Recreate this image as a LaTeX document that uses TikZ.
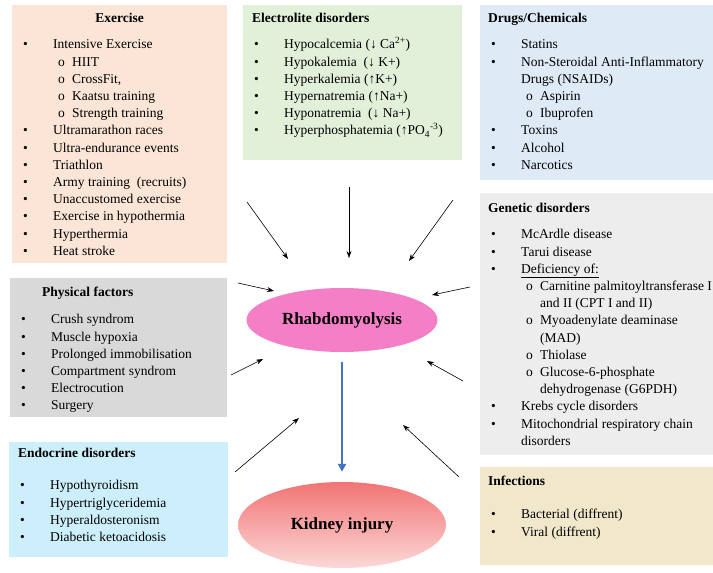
\documentclass[tikz,border=0pt]{standalone}
\usepackage{fontspec}
\setmainfont{Liberation Serif}
\usetikzlibrary{arrows.meta,shapes.geometric}

\definecolor{exfill}{HTML}{FBE5D6}
\definecolor{elfill}{HTML}{E2F0D9}
\definecolor{drfill}{HTML}{DEEBF7}
\definecolor{phfill}{HTML}{D9D9D9}
\definecolor{enfill}{HTML}{CDEFFB}
\definecolor{gefill}{HTML}{EDEDED}
\definecolor{infill}{HTML}{F1E7CB}
\definecolor{rhfill}{HTML}{F47FC6}
\definecolor{kdtop}{HTML}{F27474}
\definecolor{kdbot}{HTML}{FCD8D8}
\definecolor{flowblue}{HTML}{4472C4}

\newcommand{\itm}[1]{\hspace*{11pt}\makebox[30pt][l]{\textbullet}#1}
\newcommand{\subitm}[1]{\hspace*{46pt}\makebox[14pt][l]{o}#1}
\newcommand{\itmcont}[1]{\hspace*{41pt}#1}
\newcommand{\subcont}[1]{\hspace*{60pt}#1}
\newcommand{\boxtext}[3]{\begin{minipage}[t][#2][t]{#1}#3\end{minipage}}

\begin{document}
\begin{tikzpicture}[
  x=1pt, y=-1pt,
  box/.style={anchor=north west, inner sep=0pt},
  cause/.style={-{Stealth[length=7pt,width=5pt]}, line width=0.6pt},
  font=\fontsize{13.5}{17.2}\selectfont
]
\useasboundingbox (0,0) rectangle (713,573);

% Cause boxes
\node[box, fill=exfill] (exercise) at (12,5) {\boxtext{215pt}{258pt}{%
\rule{0pt}{17.5pt}\makebox[215pt]{\textbf{Exercise}}\\[9pt]
\itm{Intensive Exercise}\\
\subitm{HIIT}\\
\subitm{CrossFit,}\\
\subitm{Kaatsu training}\\
\subitm{Strength training}\\
\itm{Ultramarathon races}\\
\itm{Ultra-endurance events}\\
\itm{Triathlon}\\
\itm{Army training\ \ (recruits)}\\
\itm{Unaccustomed exercise}\\
\itm{Exercise in hypothermia}\\
\itm{Hyperthermia}\\
\itm{Heat stroke}}};

\node[box, fill=elfill] (electro) at (243,5) {\boxtext{219pt}{155pt}{%
\rule{0pt}{17.5pt}\hspace*{9pt}\textbf{Electrolite disorders}\\[9pt]
\itm{Hypocalcemia (↓ Ca\textsuperscript{2+})}\\
\itm{Hypokalemia\ \ (↓ K+)}\\
\itm{Hyperkalemia (↑K+)}\\
\itm{Hypernatremia (↑Na+)}\\
\itm{Hyponatremia\ \ (↓ Na+)}\\
\itm{Hyperphosphatemia (↑PO\textsubscript{4}\textsuperscript{-3})}}};

\node[box, fill=drfill] (drugs) at (480,5) {\boxtext{233pt}{175pt}{%
\rule{0pt}{17.5pt}\hspace*{8pt}\textbf{Drugs/Chemicals}\\[9pt]
\itm{Statins}\\
\itm{Non-Steroidal\ Anti-Inflammatory}\\
\itmcont{Drugs (NSAIDs)}\\
\subitm{Aspirin}\\
\subitm{Ibuprofen}\\
\itm{Toxins}\\
\itm{Alcohol}\\
\itm{Narcotics}}};

\node[box, fill=phfill] (physical) at (10,278) {\boxtext{217pt}{139pt}{%
\rule{0pt}{18.5pt}\hspace*{32pt}\textbf{Physical factors}\\[10pt]
\itm{Crush syndrom}\\
\itm{Muscle hypoxia}\\
\itm{Prolonged immobilisation}\\
\itm{Compartment syndrom}\\
\itm{Electrocution}\\
\itm{Surgery}}};

\node[box, fill=enfill] (endocrine) at (9,442) {\boxtext{219pt}{115pt}{%
\rule{0pt}{15.5pt}\hspace*{9pt}\textbf{Endocrine disorders}\\[15pt]
\itm{Hypothyroidism}\\
\itm{Hypertriglyceridemia}\\
\itm{Hyperaldosteronism}\\
\itm{Diabetic ketoacidosis}}};

\node[box, fill=gefill] (genetic) at (480,193) {\boxtext{233pt}{262pt}{%
\rule{0pt}{19.5pt}\hspace*{8pt}\textbf{Genetic disorders}\\[9pt]
\itm{McArdle disease}\\
\itm{Tarui disease}\\
\itm{\underline{Deficiency of:}}\\
\subitm{Carnitine palmitoyltransferase I}\\
\subcont{and II (CPT I and II)}\\
\subitm{Myoadenylate deaminase}\\
\subcont{(MAD)}\\
\subitm{Thiolase}\\
\subitm{Glucose-6-phosphate}\\
\subcont{dehydrogenase (G6PDH)}\\
\itm{Krebs cycle disorders}\\
\itm{Mitochondrial\ respiratory chain}\\
\itmcont{disorders}}};

\node[box, fill=infill] (infect) at (480,467) {\boxtext{233pt}{98pt}{%
\rule{0pt}{18.5pt}\hspace*{8pt}\textbf{Infections}\\[16pt]
\itm{Bacterial (diffrent)}\\
\itm{Viral (diffrent)}}};

% Centre
\node[ellipse, fill=rhfill, minimum width=191pt, minimum height=64pt,
  font=\fontsize{17}{20}\selectfont\bfseries] (rhabdo) at (342,320) {Rhabdomyolysis};
\node[ellipse, top color=kdtop, bottom color=kdbot, minimum width=208pt, minimum height=86pt,
  font=\fontsize{17}{20}\selectfont\bfseries] (kidney) at (342,525) {Kidney injury};

% Arrows
\coordinate (exT) at (247,202);  \coordinate (exH) at (288,259);
\coordinate (elT) at (349,187);  \coordinate (elH) at (349,258);
\coordinate (drT) at (453,200);  \coordinate (drH) at (409,261);
\coordinate (phT) at (238,283);  \coordinate (phH) at (274,291);
\coordinate (geT) at (470,287);  \coordinate (geH) at (432,295);
\coordinate (pxT) at (231,375);  \coordinate (pxH) at (263,359);
\coordinate (gxT) at (463,381);  \coordinate (gxH) at (427,361);
\coordinate (enT) at (235,472);  \coordinate (enH) at (299,418);
\coordinate (inT) at (459,477);  \coordinate (inH) at (403,425);
\draw[cause] (exT) -- (exH);
\draw[cause] (elT) -- (elH);
\draw[cause] (drT) -- (drH);
\draw[cause] (phT) -- (phH);
\draw[cause] (geT) -- (geH);
\draw[cause] (pxT) -- (pxH);
\draw[cause] (gxT) -- (gxH);
\draw[cause] (enT) -- (enH);
\draw[cause] (inT) -- (inH);
\draw[flowblue, line width=2.2pt, -{Triangle[length=8pt,width=8pt]},
  shorten <=10pt, shorten >=10pt] (rhabdo) -- (kidney);
\end{tikzpicture}
\end{document}
